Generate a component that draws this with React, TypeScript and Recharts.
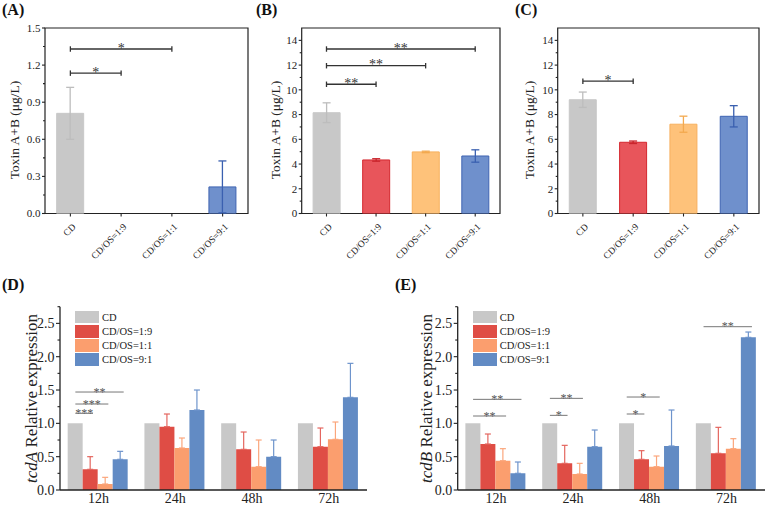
import React from 'react';
import { BarChart, Bar, XAxis, YAxis, ErrorBar, ReferenceLine, ReferenceArea, Legend } from 'recharts';

const FONT = "'Liberation Serif', 'Times New Roman', Times, serif";
const INK = '#222';

const groups = ['CD', 'CD/OS=1:9', 'CD/OS=1:1', 'CD/OS=9:1'];
const times = ['12h', '24h', '48h', '72h'];

// (A)-(C) toxin A+B, ug/L
const toxinA = [0.81, 0, 0, 0.215];
const toxinAErr = [0.21, 0, 0, 0.21];
const toxinB = [8.15, 4.33, 4.98, 4.65];
const toxinBErr = [0.8, 0.1, 0.06, 0.5];
const toxinC = [9.2, 5.76, 7.22, 7.86];
const toxinCErr = [0.62, 0.1, 0.65, 0.86];

const ticksA = [0, 0.3, 0.6, 0.9, 1.2, 1.5];
const minorA = [0.15, 0.45, 0.75, 1.05, 1.35];
const ticksBC = [0, 2, 4, 6, 8, 10, 12, 14];
const minorBC = [1, 3, 5, 7, 9, 11, 13];

type Sig = { from: number; to: number; y: number; mark: string };
const sigA: Sig[] = [
  { from: 0, to: 1, y: 1.135, mark: '*' },
  { from: 0, to: 2, y: 1.33, mark: '*' },
];
const sigB: Sig[] = [
  { from: 0, to: 1, y: 10.45, mark: '**' },
  { from: 0, to: 2, y: 11.95, mark: '**' },
  { from: 0, to: 3, y: 13.3, mark: '**' },
];
const sigC: Sig[] = [{ from: 0, to: 1, y: 10.7, mark: '*' }];

// (D) tcdA relative expression
const tcdA_cd = [1, 1, 1, 1];
const tcdA_19 = [0.31, 0.95, 0.61, 0.65];
const tcdA_19err = [0.19, 0.19, 0.26, 0.28];
const tcdA_11 = [0.09, 0.63, 0.35, 0.76];
const tcdA_11err = [0.1, 0.15, 0.4, 0.26];
const tcdA_91 = [0.46, 1.2, 0.5, 1.39];
const tcdA_91err = [0.12, 0.3, 0.25, 0.51];

// (E) tcdB relative expression
const tcdB_cd = [1, 1, 1, 1];
const tcdB_19 = [0.69, 0.4, 0.46, 0.55];
const tcdB_19err = [0.15, 0.27, 0.13, 0.39];
const tcdB_11 = [0.44, 0.24, 0.35, 0.62];
const tcdB_11err = [0.18, 0.16, 0.16, 0.15];
const tcdB_91 = [0.25, 0.65, 0.66, 2.29];
const tcdB_91err = [0.17, 0.25, 0.54, 0.08];

const ticksDE = [0, 0.5, 1, 1.5, 2, 2.5];
const minorDE = [0.25, 0.75, 1.25, 1.75, 2.25, 2.75];

type GSig = { group: number; from: number; to: number; y: number; mark: string };
const sigD: GSig[] = [
  { group: 0, from: 0, to: 1, y: 1.15, mark: '***' },
  { group: 0, from: 0, to: 2, y: 1.29, mark: '***' },
  { group: 0, from: 0, to: 3, y: 1.47, mark: '**' },
];
const sigE: GSig[] = [
  { group: 0, from: 0, to: 2, y: 1.11, mark: '**' },
  { group: 0, from: 0, to: 3, y: 1.36, mark: '**' },
  { group: 1, from: 0, to: 1, y: 1.12, mark: '*' },
  { group: 1, from: 0, to: 2, y: 1.375, mark: '**' },
  { group: 2, from: 0, to: 1, y: 1.14, mark: '*' },
  { group: 2, from: 0, to: 2, y: 1.395, mark: '*' },
  { group: 3, from: 0, to: 3, y: 2.45, mark: '**' },
];

const topFill = ['#c8c8c8', '#e8555b', '#fec27a', '#6f90cc'];
const topEdge = ['#c8c8c8', '#d4282f', '#f7b05e', '#3f64b2'];
const topErr = ['#bdbdbd', '#c9252c', '#f3a94f', '#3a60b0'];

const botFill = ['#c8c8c8', '#df4d45', '#fb9e6e', '#628bc4'];
const botErr = ['#c8c8c8', '#e4665f', '#fba67c', '#6e94cc'];

function makeYTick(majors: number[], digits: number, fontSize: number, majorLen: number, minorLen: number) {
  return (props: any) => {
    const { x, y, payload } = props;
    const v = payload.value as number;
    const isMajor = majors.some((m) => Math.abs(m - v) < 1e-6);
    const len = isMajor ? majorLen : minorLen;
    return (
      <g>
        <line x1={x} x2={x - len} y1={y} y2={y} stroke={INK} strokeWidth={1.1} />
        {isMajor && (
          <text x={x - len - 1.5} y={y} dy="0.35em" textAnchor="end" fontSize={fontSize} fontFamily={FONT} fill={INK}>
            {v.toFixed(digits)}
          </text>
        )}
      </g>
    );
  };
}

const RotTick = (props: any) => {
  const { x, y, payload } = props;
  const ax = x + 6;
  const ay = y + 14;
  return (
    <g>
      <line x1={x} x2={x} y1={y} y2={y + 3} stroke={INK} strokeWidth={1.1} />
      <text x={ax} y={ay} transform={`rotate(-45 ${ax} ${ay})`} textAnchor="end" fontSize={9.5} fontFamily={FONT} fill={INK}>
        {payload.value}
      </text>
    </g>
  );
};

function topRows(values: number[], errs: number[]) {
  return groups.map((name, i) => {
    const row: Record<string, any> = { name };
    groups.forEach((_, j) => {
      row['v' + j] = i === j ? values[j] : null;
      row['e' + j] = i === j && errs[j] > 0 ? errs[j] : null;
    });
    return row;
  });
}

interface ToxinProps {
  left: number;
  width: number;
  plotLeft: number;
  plotRight: number;
  values: number[];
  errs: number[];
  max: number;
  majors: number[];
  minors: number[];
  digits: number;
  sig: Sig[];
  cap: number;
  labelX: number;
}

function ToxinPanel(p: ToxinProps) {
  const height = 265;
  const plotTop = 28;
  const plotBottom = 213.5;
  const data = topRows(p.values, p.errs);
  const allTicks = [...p.majors, ...p.minors].sort((a, b) => a - b);
  const line = { stroke: '#333', strokeWidth: 1.3, ifOverflow: 'visible' as const };
  return (
    <div style={{ position: 'absolute', left: p.left, top: 0 }}>
      <BarChart
        width={p.width}
        height={height}
        data={data}
        margin={{ top: plotTop, right: p.width - p.plotRight, bottom: 0, left: 0 }}
        barCategoryGap="23%"
      >
        <XAxis dataKey="name" height={height - plotBottom} interval={0} axisLine={false} tickLine={false} tickSize={0} tickMargin={0} tick={RotTick} />
        <YAxis
          width={p.plotLeft}
          type="number"
          domain={[0, p.max]}
          allowDataOverflow
          ticks={allTicks}
          interval={0}
          axisLine={false}
          tickLine={false}
          tickSize={0}
          tickMargin={0}
          tick={makeYTick(p.majors, p.digits, 11, 3, 2)}
          label={() => (
            <text
              x={p.labelX}
              y={130}
              transform={`rotate(-90 ${p.labelX} 130)`}
              textAnchor="middle"
              fontSize={13.5}
              fontFamily={FONT}
              fill={INK}
            >
              Toxin A+B (μg/L)
            </text>
          )}
        />
        <ReferenceArea y1={0} y2={p.max} fill="none" stroke={INK} strokeWidth={1.2} ifOverflow="visible" />
        {groups.map((g, j) => (
          <Bar key={g} dataKey={'v' + j} stackId="s" fill={topFill[j]} stroke={topEdge[j]} strokeWidth={1} isAnimationActive={false}>
            <ErrorBar dataKey={'e' + j} width={4} stroke={topErr[j]} strokeWidth={1.3} direction="y" isAnimationActive={false} />
          </Bar>
        ))}
        {p.sig.map((s, k) => {
          const a = groups[s.from];
          const b = groups[s.to];
          return (
            <React.Fragment key={k}>
              <ReferenceLine
                segment={[{ x: a, y: s.y }, { x: b, y: s.y }]}
                {...line}
                label={{ value: s.mark, position: 'top', offset: -3.5, fontSize: 14, fill: '#333', fontFamily: FONT }}
              />
              <ReferenceLine segment={[{ x: a, y: s.y - p.cap }, { x: a, y: s.y + p.cap }]} {...line} />
              <ReferenceLine segment={[{ x: b, y: s.y - p.cap }, { x: b, y: s.y + p.cap }]} {...line} />
            </React.Fragment>
          );
        })}
      </BarChart>
    </div>
  );
}

// legend keeps the series order of the figure (Recharts would sort it by name)
const legendContent = () => (
  <div style={{ fontFamily: FONT, fontSize: 10.5, color: INK }}>
    {groups.map((name, i) => (
      <div key={name} style={{ display: 'flex', alignItems: 'center', height: 14.2, whiteSpace: 'nowrap' }}>
        <span style={{ display: 'inline-block', width: 24, height: 12.5, background: botFill[i], marginRight: 3 }} />
        <span>{name}</span>
      </div>
    ))}
  </div>
);

interface ExprProps {
  left: number;
  width: number;
  plotLeft: number;
  plotRight: number;
  gene: string;
  cd: number[];
  r19: number[];
  e19: number[];
  r11: number[];
  e11: number[];
  r91: number[];
  e91: number[];
  sig: GSig[];
  labelX: number;
  legendLeft: number;
}

function ExpressionPanel(p: ExprProps) {
  const height = 261;
  const data = times.map((t, i) => ({
    t,
    slot: i + 0.5,
    cd: p.cd[i],
    r19: p.r19[i],
    e19: [0, p.e19[i]],
    r11: p.r11[i],
    e11: [0, p.e11[i]],
    r91: p.r91[i],
    e91: [0, p.e91[i]],
  }));
  const allTicks = [...ticksDE, ...minorDE].sort((a, b) => a - b);
  // bar centre inside its time group, on a 0..4 axis (10% gap each side, 4 bars)
  const pos = (g: number, idx: number) => g + 0.2 + 0.2 * idx;
  return (
    <div style={{ position: 'absolute', left: p.left, top: 250 }}>
      <BarChart
        width={p.width}
        height={height}
        data={data}
        margin={{ top: 56.7, right: p.width - p.plotRight, bottom: 0, left: 0 }}
        barCategoryGap="10%"
        barGap={0}
      >
        <XAxis
          dataKey="t"
          height={21}
          interval={0}
          axisLine={{ stroke: INK, strokeWidth: 1.3 }}
          tickLine={false}
          tickSize={0}
          tickMargin={3}
          tick={{ fontSize: 14, fill: INK, fontFamily: FONT }}
        />
        <XAxis xAxisId="pos" dataKey="slot" type="number" scale="linear" domain={[0, 4]} allowDataOverflow hide />
        <YAxis
          width={p.plotLeft}
          type="number"
          domain={[0, 2.75]}
          allowDataOverflow
          ticks={allTicks}
          interval={0}
          axisLine={{ stroke: INK, strokeWidth: 1.3 }}
          tickLine={false}
          tickSize={0}
          tickMargin={0}
          tick={makeYTick(ticksDE, 1, 14, 4, 2.5)}
          label={() => (
            <text
              x={p.labelX}
              y={148.5}
              transform={`rotate(-90 ${p.labelX} 148.5)`}
              textAnchor="middle"
              fontSize={17}
              fontFamily={FONT}
              fill={INK}
            >
              <tspan fontStyle="italic">{p.gene}</tspan>
              {' Relative expression'}
            </text>
          )}
        />
        <Bar dataKey="cd" name="CD" fill={botFill[0]} isAnimationActive={false} />
        <Bar dataKey="r19" name="CD/OS=1:9" fill={botFill[1]} isAnimationActive={false}>
          <ErrorBar dataKey="e19" width={3} stroke={botErr[1]} strokeWidth={1.2} direction="y" isAnimationActive={false} />
        </Bar>
        <Bar dataKey="r11" name="CD/OS=1:1" fill={botFill[2]} isAnimationActive={false}>
          <ErrorBar dataKey="e11" width={3} stroke={botErr[2]} strokeWidth={1.2} direction="y" isAnimationActive={false} />
        </Bar>
        <Bar dataKey="r91" name="CD/OS=9:1" fill={botFill[3]} isAnimationActive={false}>
          <ErrorBar dataKey="e91" width={3} stroke={botErr[3]} strokeWidth={1.2} direction="y" isAnimationActive={false} />
        </Bar>
        {p.sig.map((s, k) => (
          <ReferenceLine
            key={k}
            xAxisId="pos"
            segment={[
              { x: pos(s.group, s.from), y: s.y },
              { x: pos(s.group, s.to) + 0.03, y: s.y },
            ]}
            stroke="#777"
            strokeWidth={1}
            ifOverflow="visible"
            label={{ value: s.mark, position: 'top', offset: -3.5, fontSize: 12, fill: '#555', fontFamily: FONT }}
          />
        ))}
        <Legend
          layout="vertical"
          align="center"
          verticalAlign="middle"
          wrapperStyle={{ left: p.legendLeft, top: 60, width: 110 }}
          content={legendContent}
        />
      </BarChart>
    </div>
  );
}

const panelLetters = [
  { text: '(A)', x: 2, y: 15 },
  { text: '(B)', x: 256, y: 15 },
  { text: '(C)', x: 515, y: 15 },
  { text: '(D)', x: 2, y: 290 },
  { text: '(E)', x: 395, y: 290 },
];

export default function App() {
  return (
    <div style={{ position: 'absolute', left: 0, top: 0, width: 767, height: 511, background: '#fff', overflow: 'hidden' }}>
      <ExpressionPanel
        left={0}
        width={380}
        plotLeft={60}
        plotRight={367}
        gene="tcdA"
        cd={tcdA_cd}
        r19={tcdA_19}
        e19={tcdA_19err}
        r11={tcdA_11}
        e11={tcdA_11err}
        r91={tcdA_91}
        e91={tcdA_91err}
        sig={sigD}
        labelX={36.5}
        legendLeft={75}
      />
      <ExpressionPanel
        left={380}
        width={387}
        plotLeft={77.7}
        plotRight={385}
        gene="tcdB"
        cd={tcdB_cd}
        r19={tcdB_19}
        e19={tcdB_19err}
        r11={tcdB_11}
        e11={tcdB_11err}
        r91={tcdB_91}
        e91={tcdB_91err}
        sig={sigE}
        labelX={51.7}
        legendLeft={92.7}
      />
      <ToxinPanel left={0} width={260} plotLeft={45} plotRight={248} values={toxinA} errs={toxinAErr} max={1.5} majors={ticksA} minors={minorA} digits={1} sig={sigA} cap={0.022} labelX={18.5} />
      <ToxinPanel left={255} width={255} plotLeft={46.7} plotRight={245} values={toxinB} errs={toxinBErr} max={15} majors={ticksBC} minors={minorBC} digits={0} sig={sigB} cap={0.22} labelX={25.3} />
      <ToxinPanel left={510} width={257} plotLeft={47.7} plotRight={249} values={toxinC} errs={toxinCErr} max={15} majors={ticksBC} minors={minorBC} digits={0} sig={sigC} cap={0.22} labelX={24} />
      <svg width={767} height={511} style={{ position: 'absolute', left: 0, top: 0, pointerEvents: 'none' }}>
        {panelLetters.map((l) => (
          <text key={l.text} x={l.x} y={l.y} fontSize={16} fontWeight="bold" fontFamily={FONT} fill="#111">
            {l.text}
          </text>
        ))}
      </svg>
    </div>
  );
}
